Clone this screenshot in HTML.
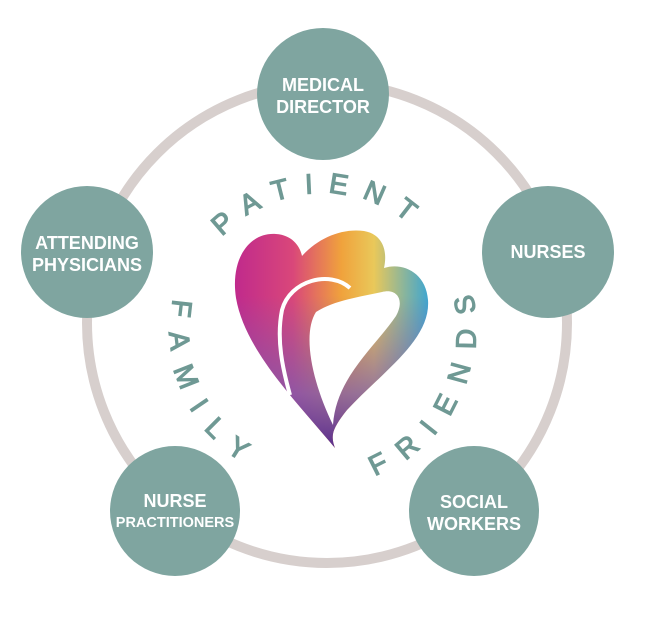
<!DOCTYPE html>
<html><head><meta charset="utf-8"><style>
html,body{margin:0;padding:0;background:#fff;width:648px;height:625px;overflow:hidden}
svg{display:block}
.lab{font-family:"Liberation Sans",sans-serif;font-weight:bold;fill:#fff;text-anchor:middle}
.arc{font-family:"Liberation Sans",sans-serif;fill:#6f9994;stroke:#6f9994;stroke-width:1.2;font-size:28px}
</style></head><body>
<svg width="648" height="625" viewBox="0 0 648 625" xmlns="http://www.w3.org/2000/svg">
<defs>
<linearGradient id="g1" x1="0" y1="0" x2="1" y2="0">
<stop offset="0" stop-color="#c02a8c"/>
<stop offset="0.3" stop-color="#d9477a"/>
<stop offset="0.55" stop-color="#f0a23c"/>
<stop offset="0.72" stop-color="#e9c85a"/>
<stop offset="1" stop-color="#3fa6d0"/>
</linearGradient>
<linearGradient id="g2" x1="0" y1="0" x2="0" y2="1">
<stop offset="0.3" stop-color="#7a5ab0" stop-opacity="0"/>
<stop offset="0.75" stop-color="#7a5ab0" stop-opacity="0.75"/>
<stop offset="1" stop-color="#5a2d8c" stop-opacity="1"/>
</linearGradient>
<path id="top" d="M186,330 A137,137 0 0 1 460,330"/>
<path id="bot" d="M180.2,278 A152,152 0 1 0 465.8,382 A152,152 0 1 0 180.2,278"/>
</defs>
<circle cx="327" cy="323" r="240" fill="none" stroke="#d7cfcd" stroke-width="10"/>
<path d="M335,448 C295,400 245,350 236,298 C230,258 250,232 276,234 C292,235 300,246 302,256 C318,238 342,228 364,231 C382,234 388,250 384,268 C402,262 426,272 428,300 C431,340 382,372 347,410 C339,420 334,428 333,434 C332,440 334,445 335,448 Z" fill="url(#g1)"/>
<path d="M335,448 C295,400 245,350 236,298 C230,258 250,232 276,234 C292,235 300,246 302,256 C318,238 342,228 364,231 C382,234 388,250 384,268 C402,262 426,272 428,300 C431,340 382,372 347,410 C339,420 334,428 333,434 C332,440 334,445 335,448 Z" fill="url(#g2)"/>
<path d="M333,425 C336,378 374,348 396,316 C405,300 397,288 382,292 C360,297 335,300 316,312 C302,334 312,382 333,425 Z" fill="#fff"/>
<path d="M350,288 C330,270 290,280 282,310 C276,340 283,370 290,395" fill="none" stroke="#fff" stroke-width="4"/>
<text class="arc" letter-spacing="15"><textPath href="#top" startOffset="102">PATIENT</textPath></text>
<text class="arc" letter-spacing="18"><textPath href="#bot" startOffset="22">FAMILY</textPath></text>
<text class="arc" letter-spacing="17"><textPath href="#bot" startOffset="348">FRIENDS</textPath></text>
<g fill="#7fa5a0">
<circle cx="323" cy="94" r="66"/>
<circle cx="548" cy="252" r="66"/>
<circle cx="87" cy="252" r="66"/>
<circle cx="175" cy="511" r="65"/>
<circle cx="474" cy="511" r="65"/>
</g>
<text class="lab" font-size="18" x="323" y="91">MEDICAL</text>
<text class="lab" font-size="18" x="323" y="113">DIRECTOR</text>
<text class="lab" font-size="18" x="548" y="258">NURSES</text>
<text class="lab" font-size="18" x="87" y="249">ATTENDING</text>
<text class="lab" font-size="18" x="87" y="271">PHYSICIANS</text>
<text class="lab" font-size="18" x="175" y="507">NURSE</text>
<text class="lab" font-size="14.5" x="175" y="527">PRACTITIONERS</text>
<text class="lab" font-size="18" x="474" y="508">SOCIAL</text>
<text class="lab" font-size="18" x="474" y="530">WORKERS</text>
</svg>
</body></html>
